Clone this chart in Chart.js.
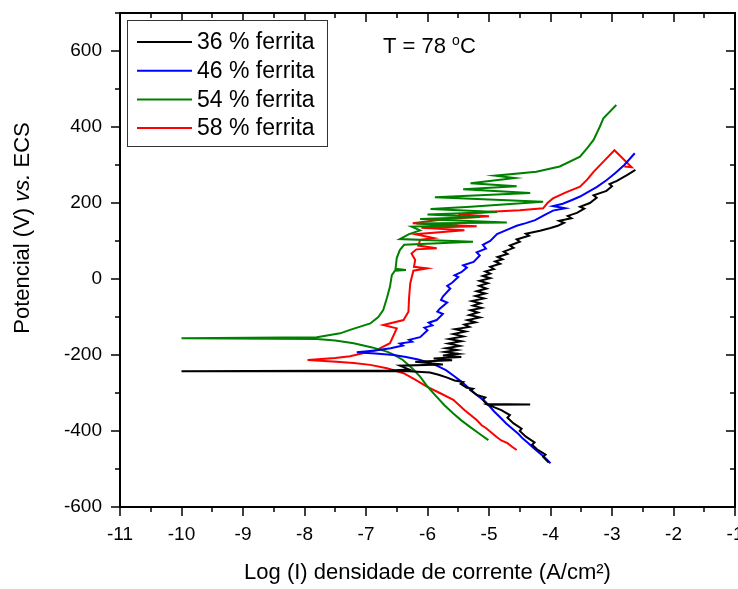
<!DOCTYPE html>
<html>
<head>
<meta charset="utf-8">
<script src="https://cdn.jsdelivr.net/npm/chart.js@4"></script>
<style>
    html, body { margin: 0; padding: 0; background: #fff; }
</style>
</head>
<body>
<canvas id="polChart" width="738" height="589"></canvas>
<script>
// ============================
// DATA (log I, potencial mV)
// ============================
const seriesLabels = ["36 % ferrita", "46 % ferrita", "54 % ferrita", "58 % ferrita"];
const xTicks = [-11, -10, -9, -8, -7, -6, -5, -4, -3, -2, -1];
const yTicks = [-600, -400, -200, 0, 200, 400, 600];

const ferrita36 = [[-4.03,-483],[-4.12,-468],[-4.08,-462],[-4.22,-448],[-4.30,-436],[-4.26,-430],[-4.40,-415],[-4.50,-400],[-4.47,-394],[-4.60,-380],[-4.70,-365],[-4.66,-358],[-4.80,-345],[-4.92,-337],[-5.02,-331],[-4.33,-330],[-5.04,-329],[-5.10,-318],[-5.06,-312],[-5.20,-305],[-5.30,-293],[-5.26,-289],[-5.36,-286],[-5.46,-276],[-5.42,-271],[-5.56,-267],[-5.69,-259],[-5.82,-252],[-5.96,-246],[-6.30,-243],[-6.60,-243],[-10.0,-243],[-6.60,-241],[-6.30,-238],[-6.45,-228],[-5.75,-225],[-6.20,-218],[-5.60,-214],[-5.90,-209],[-5.45,-205],[-5.75,-201],[-5.50,-197],[-5.72,-192],[-5.52,-187],[-5.70,-182],[-5.48,-176],[-5.66,-170],[-5.45,-164],[-5.65,-158],[-5.42,-151],[-5.58,-145],[-5.38,-138],[-5.55,-132],[-5.32,-126],[-5.40,-120],[-5.22,-114],[-5.35,-108],[-5.15,-101],[-5.32,-95],[-5.18,-88],[-5.30,-82],[-5.12,-76],[-5.26,-70],[-5.14,-64],[-5.28,-58],[-5.08,-51],[-5.22,-45],[-5.06,-38],[-5.20,-32],[-5.04,-25],[-5.16,-18],[-5.02,-11],[-5.15,-5],[-4.98,2],[-5.10,8],[-4.98,14],[-5.06,20],[-4.92,26],[-4.98,32],[-4.82,40],[-4.90,46],[-4.78,52],[-4.86,58],[-4.70,66],[-4.76,72],[-4.60,82],[-4.66,88],[-4.50,98],[-4.55,104],[-4.35,114],[-4.40,119],[-4.17,127],[-4.00,134],[-3.88,140],[-3.78,148],[-3.86,153],[-3.66,160],[-3.72,166],[-3.57,174],[-3.45,185],[-3.52,190],[-3.36,200],[-3.25,214],[-3.30,220],[-3.09,232],[-3.00,244],[-3.04,250],[-2.92,258],[-2.75,274],[-2.62,287]];

const ferrita46 = [[-4.00,-485],[-4.06,-475],[-4.12,-466],[-4.20,-455],[-4.28,-444],[-4.36,-432],[-4.45,-420],[-4.52,-408],[-4.62,-394],[-4.72,-380],[-4.82,-364],[-4.92,-348],[-5.00,-333],[-5.08,-320],[-5.20,-305],[-5.32,-288],[-5.45,-270],[-5.58,-254],[-5.70,-240],[-5.85,-228],[-6.00,-219],[-6.15,-212],[-6.35,-205],[-6.55,-200],[-6.85,-196],[-7.15,-193],[-6.85,-188],[-6.60,-182],[-6.40,-175],[-6.45,-170],[-6.25,-165],[-6.30,-160],[-6.12,-153],[-6.00,-135],[-6.05,-128],[-5.92,-122],[-5.98,-115],[-5.85,-108],[-5.75,-92],[-5.84,-86],[-5.80,-78],[-5.68,-62],[-5.78,-55],[-5.75,-46],[-5.63,-25],[-5.68,-18],[-5.60,-10],[-5.50,5],[-5.56,10],[-5.45,18],[-5.36,30],[-5.42,36],[-5.25,45],[-5.15,62],[-5.20,70],[-5.05,80],[-5.10,90],[-4.98,100],[-4.87,118],[-4.70,130],[-4.55,140],[-4.40,147],[-4.25,155],[-4.10,168],[-3.96,180],[-3.76,186],[-3.96,192],[-3.80,198],[-3.65,208],[-3.52,217],[-3.40,228],[-3.25,242],[-3.09,260],[-2.95,278],[-2.80,300],[-2.63,331]];

const ferrita54 = [[-5.01,-424],[-5.15,-408],[-5.31,-389],[-5.45,-372],[-5.58,-354],[-5.72,-333],[-5.85,-310],[-6.00,-283],[-6.12,-257],[-6.25,-235],[-6.40,-213],[-6.55,-199],[-6.66,-191],[-6.90,-180],[-7.20,-169],[-7.50,-162],[-7.80,-158],[-10.0,-156],[-7.80,-153],[-7.42,-143],[-7.26,-134],[-6.93,-117],[-6.80,-100],[-6.72,-82],[-6.66,-50],[-6.61,-20],[-6.58,10],[-6.53,22],[-6.35,24],[-6.52,27],[-6.50,55],[-6.45,76],[-6.38,90],[-5.26,98],[-6.45,105],[-6.30,118],[-6.12,128],[-6.26,138],[-5.50,141],[-6.18,146],[-4.71,149],[-6.12,158],[-5.15,163],[-6.00,170],[-4.87,176],[-5.95,184],[-5.30,190],[-4.12,203],[-5.88,215],[-4.33,226],[-5.42,236],[-4.55,244],[-5.30,252],[-4.58,266],[-4.90,272],[-4.23,282],[-3.85,296],[-3.52,322],[-3.40,345],[-3.30,366],[-3.20,400],[-3.14,423],[-2.93,458]];

const ferrita58 = [[-4.55,-450],[-4.62,-442],[-4.70,-432],[-4.80,-425],[-4.88,-415],[-5.05,-392],[-5.12,-385],[-5.20,-371],[-5.40,-345],[-5.58,-318],[-5.80,-300],[-6.01,-283],[-6.20,-265],[-6.39,-248],[-6.66,-235],[-6.93,-226],[-7.20,-221],[-7.48,-218],[-7.95,-213],[-7.50,-208],[-7.26,-203],[-6.83,-187],[-6.61,-169],[-6.50,-130],[-6.72,-121],[-6.39,-108],[-6.31,-86],[-6.30,-50],[-6.28,-11],[-6.23,22],[-6.01,28],[-6.22,32],[-6.20,50],[-6.26,67],[-6.18,78],[-5.85,81],[-6.15,88],[-6.12,103],[-5.90,108],[-6.20,118],[-5.40,128],[-6.10,135],[-5.20,139],[-6.24,147],[-5.69,158],[-5.00,165],[-5.50,170],[-4.98,177],[-4.50,181],[-4.12,186],[-4.05,200],[-3.96,212],[-3.75,228],[-3.52,243],[-3.40,262],[-3.30,282],[-3.14,309],[-2.96,339],[-2.68,294],[-2.80,296]];

const seriesData = [ferrita36, ferrita46, ferrita54, ferrita58];
const seriesColors = ["#000000", "#0000ff", "#008000", "#ff0000"];

const FONT = "'Liberation Sans', Arial, sans-serif";

// ============================
// PLUGIN: frame, ticks, legend, texts
// ============================
const decorPlugin = {
    id: "decor",
    afterDraw(chart) {
        const { ctx, chartArea: a, scales: { x, y } } = chart;
        ctx.save();

        // frame
        ctx.strokeStyle = "#000";
        ctx.lineWidth = 2;
        ctx.strokeRect(a.left, a.top, a.right - a.left, a.bottom - a.top);

        // ticks (outward on bottom/left, inward on top/right)
        ctx.lineWidth = 1.5;
        ctx.beginPath();
        for (let v = -11; v <= -1; v += 0.5) {
            const px = Math.round(x.getPixelForValue(v));
            const len = Number.isInteger(v) ? 9 : 5;
            ctx.moveTo(px, a.bottom); ctx.lineTo(px, a.bottom + len);
            ctx.moveTo(px, a.top); ctx.lineTo(px, a.top + len);
        }
        for (let v = -600; v <= 700; v += 100) {
            const py = Math.round(y.getPixelForValue(v));
            const len = (v % 200 === 0) ? 9 : 5;
            ctx.moveTo(a.left, py); ctx.lineTo(a.left - len, py);
            ctx.moveTo(a.right, py); ctx.lineTo(a.right - len, py);
        }
        ctx.stroke();

        // legend box
        ctx.fillStyle = "#fff";
        ctx.fillRect(127, 20, 200, 126);
        ctx.strokeStyle = "#333";
        ctx.lineWidth = 1;
        ctx.strokeRect(127.5, 20.5, 200, 126);
        ctx.font = "23px " + FONT;
        ctx.textBaseline = "middle";
        ctx.textAlign = "left";
        chart.data.datasets.forEach((ds, i) => {
            const ry = 42 + i * 28.7;
            ctx.strokeStyle = ds.borderColor;
            ctx.lineWidth = 2;
            ctx.beginPath();
            ctx.moveTo(137, ry); ctx.lineTo(192, ry);
            ctx.stroke();
            ctx.fillStyle = "#000";
            ctx.fillText(ds.label, 197, ry + 1);
        });

        // temperature
        ctx.fillStyle = "#000";
        ctx.font = "22px " + FONT;
        ctx.fillText("T = 78 ", 383, 47);
        let tx = 383 + ctx.measureText("T = 78 ").width;
        ctx.font = "14px " + FONT;
        ctx.fillText("o", tx, 41);
        tx += ctx.measureText("o").width;
        ctx.font = "22px " + FONT;
        ctx.fillText("C", tx, 47);

        // y axis title, "vs." in italics
        const parts = [["Potencial (V) ", ""], ["vs.", "italic "], [" ECS", ""]];
        let total = 0;
        parts.forEach(p => { ctx.font = p[1] + "22px " + FONT; total += ctx.measureText(p[0]).width; });
        ctx.translate(23, 228);
        ctx.rotate(-Math.PI / 2);
        let off = -total / 2;
        parts.forEach(p => {
            ctx.font = p[1] + "22px " + FONT;
            ctx.fillText(p[0], off, 0);
            off += ctx.measureText(p[0]).width;
        });

        ctx.restore();
    }
};

// ============================
// CHART
// ============================
const ctx = document.getElementById("polChart");

new Chart(ctx, {
    type: "scatter",
    data: {
        datasets: seriesData.map((pts, i) => ({
            label: seriesLabels[i],
            data: pts.map(p => ({ x: p[0], y: p[1] })),
            borderColor: seriesColors[i],
            backgroundColor: seriesColors[i],
            showLine: true,
            borderWidth: 2,
            pointRadius: 0,
            tension: 0
        }))
    },
    options: {
        responsive: false,
        animation: false,
        layout: { padding: { left: 0, right: 3, top: 13, bottom: 0 } },
        plugins: {
            legend: { display: false },
            tooltip: { enabled: false }
        },
        scales: {
            x: {
                type: "linear",
                min: -11,
                max: -1,
                grid: { display: false, drawTicks: false },
                border: { display: false },
                afterBuildTicks: s => { s.ticks = xTicks.map(v => ({ value: v })); },
                afterFit: s => { s.height = 82; s.paddingLeft = 0; s.paddingRight = 0; },
                ticks: {
                    color: "#000",
                    font: { family: FONT, size: 19 },
                    padding: 16,
                    maxRotation: 0,
                    autoSkip: false
                },
                title: {
                    display: true,
                    text: "Log (I) densidade de corrente (A/cm²)",
                    color: "#000",
                    font: { family: FONT, size: 22 },
                    padding: { top: 0, bottom: 3 }
                }
            },
            y: {
                type: "linear",
                min: -600,
                max: 700,
                grid: { display: false, drawTicks: false },
                border: { display: false },
                afterBuildTicks: s => { s.ticks = yTicks.map(v => ({ value: v })); },
                afterFit: s => { s.width = 120; s.paddingTop = 0; s.paddingBottom = 0; },
                ticks: {
                    color: "#000",
                    font: { family: FONT, size: 19 },
                    padding: 18
                }
            }
        }
    },
    plugins: [decorPlugin]
});
</script>
</body>
</html>
